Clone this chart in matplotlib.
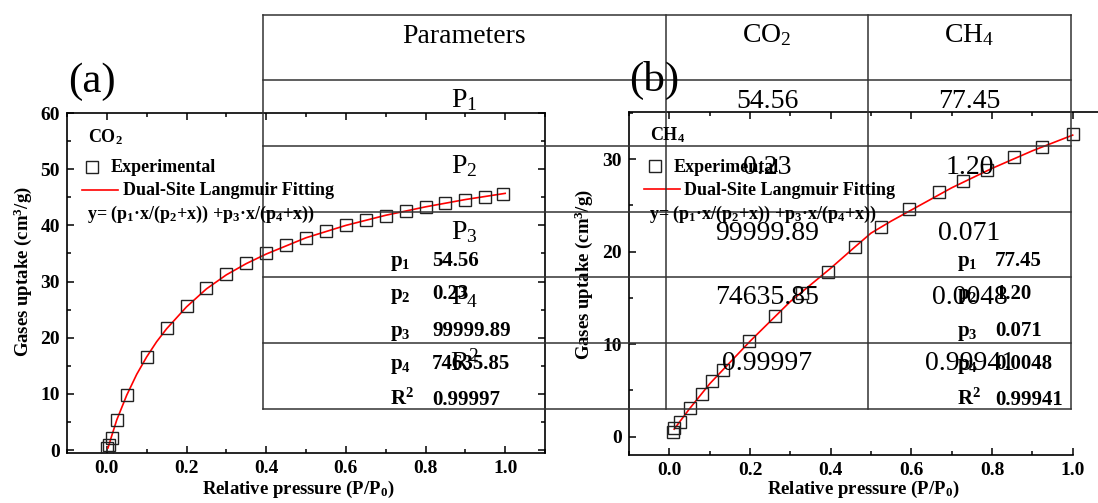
import matplotlib
matplotlib.use("Agg")
import matplotlib.pyplot as plt
from matplotlib.ticker import MultipleLocator

# ---------------- data ----------------
co2_x = [0.0, 0.005, 0.012, 0.025, 0.05, 0.1, 0.15, 0.2, 0.25, 0.3, 0.35, 0.4,
         0.45, 0.5, 0.55, 0.6, 0.65, 0.7, 0.75, 0.8, 0.85, 0.9, 0.95, 0.995]
co2_y = [0.4, 1.0, 2.2, 5.4, 9.8, 16.6, 21.8, 25.6, 28.8, 31.4, 33.3, 35.0,
         36.5, 37.8, 39.0, 40.0, 40.9, 41.7, 42.6, 43.2, 44.0, 44.6, 45.1, 45.6]
co2_fit_x = [0.003, 0.012, 0.025, 0.05, 0.075, 0.1, 0.125, 0.15, 0.2, 0.25, 0.3,
             0.35, 0.4, 0.5, 0.6, 0.7, 0.8, 0.9, 1.0]
co2_fit_y = [0.4, 2.5, 5.4, 9.8, 13.5, 16.6, 19.3, 21.6, 25.5, 28.7, 31.2,
             33.2, 34.9, 37.8, 40.0, 41.8, 43.3, 44.6, 45.7]

ch4_x = [0.008, 0.012, 0.027, 0.05, 0.08, 0.106, 0.132, 0.198, 0.262, 0.33, 0.393,
         0.46, 0.525, 0.595, 0.668, 0.727, 0.787, 0.854, 0.923, 1.0]
ch4_y = [0.5, 0.9, 1.6, 3.1, 4.6, 6.0, 7.2, 10.3, 13.0, 15.5, 17.8,
         20.5, 22.7, 24.6, 26.5, 27.6, 28.8, 30.2, 31.3, 32.7]
ch4_fit_x = [0.012, 0.05, 0.1, 0.2, 0.3, 0.4, 0.46, 0.5, 0.55, 0.6, 0.7, 0.8, 0.9, 1.0]
ch4_fit_y = [0.8, 3.0, 5.7, 10.3, 14.6, 18.2, 20.5, 22.0, 23.3, 24.5, 26.9, 29.0, 30.9, 32.6]

param_names = ["p$_1$", "p$_2$", "p$_3$", "p$_4$", "R$^2$"]
co2_params = ["54.56", "0.23", "99999.89", "74635.85", "0.99997"]
ch4_params = ["77.45", "1.20", "0.071", "0.0048", "0.99941"]

tbl_header = ["Parameters", "CO$_2$", "CH$_4$"]
tbl_rows = ["P$_1$", "P$_2$", "P$_3$", "P$_4$", "R$^2$"]
tbl_co2 = ["54.56", "0.23", "99999.89", "74635.85", "0.99997"]
tbl_ch4 = ["77.45", "1.20", "0.071", "0.0048", "0.99941"]

equation = "y= (p$_1$·x/(p$_2$+x)) +p$_3$·x/(p$_4$+x))"

# ---------------- style ----------------
W, H = 1098, 503
plt.rcParams['font.family'] = ['Liberation Serif', 'DejaVu Serif']
plt.rcParams['font.weight'] = 'bold'
plt.rcParams['mathtext.default'] = 'regular'
plt.rcParams['axes.labelweight'] = 'bold'

fig = plt.figure(figsize=(W / 100, H / 100), dpi=100)


def box(l, t, r, b):
    return [l / W, 1 - b / H, (r - l) / W, (b - t) / H]


axA = fig.add_axes(box(67, 113, 545, 453))
axB = fig.add_axes(box(629, 112, 1113, 455))


def style(ax, ylim, ymaj):
    ax.set_xlim(-0.1, 1.1)
    ax.set_ylim(*ylim)
    ax.xaxis.set_major_locator(MultipleLocator(0.2))
    ax.xaxis.set_minor_locator(MultipleLocator(0.1))
    ax.yaxis.set_major_locator(MultipleLocator(ymaj))
    ax.yaxis.set_minor_locator(MultipleLocator(ymaj / 2))
    ax.tick_params(which='both', direction='in', top=True, right=True,
                   labelsize=14, width=1.1, colors='black')
    ax.tick_params(which='major', length=5, pad=5)
    ax.tick_params(which='minor', length=3)
    for s in ax.spines.values():
        s.set_linewidth(1.2)
    ax.set_xlabel("Relative pressure (P/P$_0$)", fontsize=13.5)
    ax.set_ylabel("Gases uptake (cm$^3$/g)", fontsize=13.5)


style(axA, (-0.5, 60), 10)
style(axB, (-2, 35.1), 10)
axB.spines['bottom'].set_bounds(-0.1, 1.0)
axB.spines['right'].set_visible(False)

axA.xaxis.set_label_coords((298 - 67) / 478, (453 - 479) / 340)
axA.yaxis.set_label_coords((34 - 67) / 478, (453 - 272) / 340)
axB.xaxis.set_label_coords((863 - 629) / 484, (455 - 479) / 343)
axB.yaxis.set_label_coords((595 - 629) / 484, (455 - 275) / 343)

mk = dict(marker='s', ms=8, mfc='none', mec='#222222', mew=1.0, ls='none', zorder=3)
axA.plot(co2_fit_x, co2_fit_y, color='red', lw=1.2, zorder=2)
axA.plot(co2_x, co2_y, **mk)
axB.plot(ch4_fit_x, ch4_fit_y, color='red', lw=1.2, zorder=2)
axB.plot(ch4_x, ch4_y, **mk)

# ---------------- overlay (pixel coordinates) ----------------
ov = fig.add_axes([0, 0, 1, 1])
ov.set_xlim(0, W)
ov.set_ylim(H, 0)
ov.set_axis_off()
ov.patch.set_alpha(0)

ov.text(92, 82, "(a)", fontsize=31, weight='normal', ha='center', va='center')
ov.text(654, 80, "(b)", fontsize=31, weight='normal', ha='center', va='center')

# legends
for (gx, gas, sqx, sqy, tx1, lx0, lx1, ly, tx2, ex, gy) in [
        (88, "CO$_2$", 92, 167, 111, 82, 118, 190, 123, 87, 142),
        (650, "CH$_4$", 654.5, 166, 674, 644, 680, 189, 684, 649, 140)]:
    ov.text(gx, gy, gas, fontsize=13, ha='left', va='baseline')
    ov.plot([sqx], [sqy], **mk)
    ov.text(tx1, 172, "Experimental", fontsize=13, ha='left', va='baseline')
    ov.plot([lx0, lx1], [ly, ly], color='red', lw=1.2)
    ov.text(tx2, 195, "Dual-Site Langmuir Fitting", fontsize=13, ha='left', va='baseline')
    ov.text(ex, 219, equation, fontsize=13, ha='left', va='baseline')

# parameter blocks
base_y = [266, 299, 336, 369, 405]
for i, name in enumerate(param_names):
    ov.text(390, base_y[i], name, fontsize=15, ha='left', va='baseline')
    ov.text(432, base_y[i], co2_params[i], fontsize=15, ha='left', va='baseline')
    ov.text(957, base_y[i], name, fontsize=15, ha='left', va='baseline')
    ov.text(995, base_y[i], ch4_params[i], fontsize=15, ha='left', va='baseline')

# table
col_edges = [263, 666, 868, 1071]
row_edges = [15, 80, 146, 212, 277, 343, 409]
for x in col_edges:
    ov.plot([x, x], [row_edges[0], row_edges[-1]], color='#333333', lw=1.1)
for y in row_edges:
    ov.plot([col_edges[0], col_edges[-1]], [y, y], color='#333333', lw=1.1)
col_centers = [(col_edges[i] + col_edges[i + 1]) / 2 for i in range(3)]
rows = [tbl_header] + [[tbl_rows[i], tbl_co2[i], tbl_ch4[i]] for i in range(5)]
for r, row in enumerate(rows):
    for c, txt in enumerate(row):
        ov.text(col_centers[c], row_edges[r] + 27.5, txt, fontsize=20, weight='normal',
                ha='center', va='baseline')

fig.savefig("out.png", dpi=100)
